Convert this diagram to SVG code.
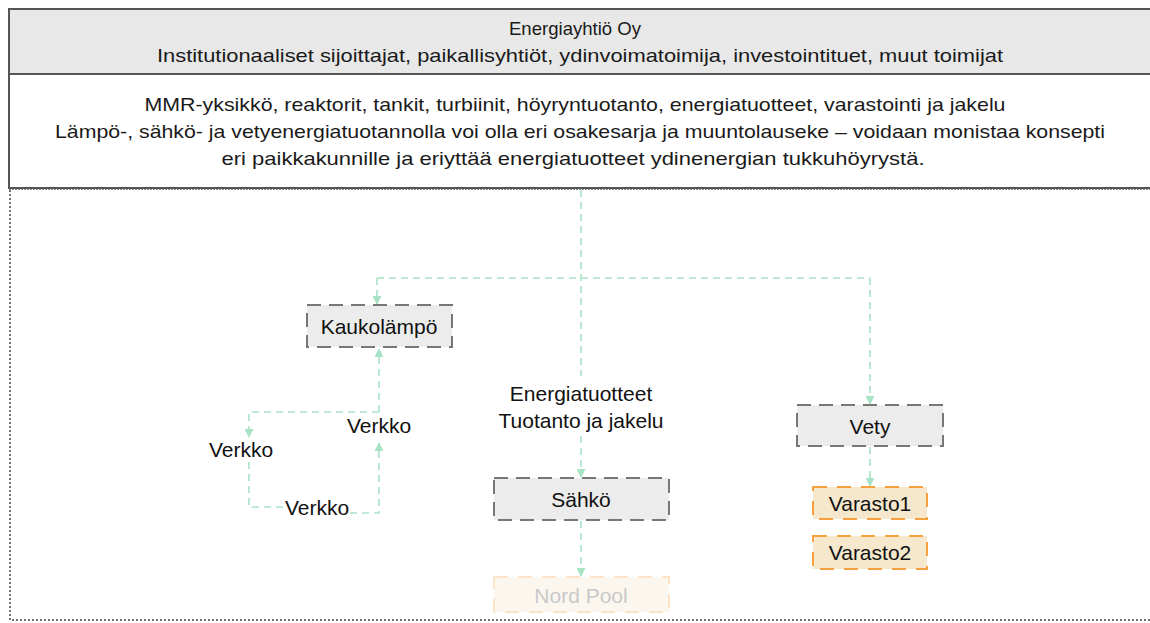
<svg xmlns="http://www.w3.org/2000/svg" width="1150" height="623" viewBox="0 0 1150 623">
  <style>
    .hdr { font-family: "Liberation Sans", Arial, sans-serif; font-size: 19px; fill: #1a1a1a; text-anchor: middle; }
    .lbl { font-family: "Liberation Sans", Arial, sans-serif; font-size: 21px; fill: #111; text-anchor: middle; dominant-baseline: central; }
    .grey { fill: #ececec; stroke: #777; stroke-width: 2; stroke-dasharray: 14 8; }
    .store { fill: #f5e8cc; stroke: #f7a040; stroke-width: 2; stroke-dasharray: 14 10; }
    .pale { fill: #fbf7ef; stroke: #fde3c8; stroke-width: 2; stroke-dasharray: 14 10; }
    .link { fill: none; stroke: #a9e3c6; stroke-width: 1.6; stroke-dasharray: 7 5; }
  </style>
  <defs>
    <marker id="arrow" viewBox="0 0 10 10" refX="9" refY="5" markerWidth="9" markerHeight="9" markerUnits="userSpaceOnUse" orient="auto">
      <path d="M0,0 L10,5 L0,10 z" fill="#a9e3c6"/>
    </marker>
  </defs>

  <rect width="1150" height="623" fill="#ffffff"/>

  <!-- company header band -->
  <g id="owners">
    <rect x="9" y="9" width="1150" height="65" fill="#e8e8e8" stroke="#555" stroke-width="2"/>
    <text class="hdr" x="575" y="35" textLength="132" lengthAdjust="spacingAndGlyphs">Energiayhtiö Oy</text>
    <text class="hdr" x="580" y="62" textLength="846" lengthAdjust="spacingAndGlyphs">Institutionaaliset sijoittajat, paikallisyhtiöt, ydinvoimatoimija, investointituet, muut toimijat</text>
  </g>

  <!-- plant description band -->
  <g id="plant">
    <rect x="9" y="74" width="1150" height="114" fill="#ffffff" stroke="#555" stroke-width="2"/>
    <line x1="9" y1="189.5" x2="1150" y2="189.5" stroke="#888" stroke-width="1" stroke-dasharray="2 1"/>
    <text class="hdr" x="575" y="111" textLength="861" lengthAdjust="spacingAndGlyphs">MMR-yksikkö, reaktorit, tankit, turbiinit, höyryntuotanto, energiatuotteet, varastointi ja jakelu</text>
    <text class="hdr" x="580" y="138" textLength="1050" lengthAdjust="spacingAndGlyphs">Lämpö-, sähkö- ja vetyenergiatuotannolla voi olla eri osakesarja ja muuntolauseke – voidaan monistaa konsepti</text>
    <text class="hdr" x="573" y="165" textLength="703" lengthAdjust="spacingAndGlyphs">eri paikkakunnille ja eriyttää energiatuotteet ydinenergian tukkuhöyrystä.</text>
  </g>

  <!-- dotted frame of the production area -->
  <g id="frame">
    <path d="M10,190 L10,620 L1150,620" fill="none" stroke="#444" stroke-width="1.5" stroke-dasharray="2 2"/>
  </g>

  <!-- connectors -->
  <g id="connectors">
    <path class="link" d="M581,190 L581,376"/>
    <path class="link" d="M581,436 L581,477" marker-end="url(#arrow)"/>
    <path class="link" d="M377,278 L870,278"/>
    <path class="link" d="M377,278 L377,304" marker-end="url(#arrow)"/>
    <path class="link" d="M870,278 L870,404" marker-end="url(#arrow)"/>
    <path class="link" d="M581,521 L581,576" marker-end="url(#arrow)"/>
    <path class="link" d="M870,447 L870,486" marker-end="url(#arrow)"/>
    <!-- district heating network loop -->
    <path class="link" d="M379,412 L379,349" marker-end="url(#arrow)"/>
    <path class="link" d="M379,412 L249,412 L249,437" marker-end="url(#arrow)"/>
    <path class="link" d="M249,462 L249,507 L283,507"/>
    <path class="link" d="M350,513 L379,513 L379,443" marker-end="url(#arrow)"/>
  </g>

  <g id="center-label">
    <text class="lbl" x="581" y="393">Energiatuotteet</text>
    <text class="lbl" x="581" y="420">Tuotanto ja jakelu</text>
  </g>

  <g id="kaukolampo">
    <rect class="grey" x="307" y="305" width="145" height="42"/>
    <text class="lbl" x="379" y="326">Kaukolämpö</text>
  </g>

  <g id="verkko-top">
    <text class="lbl" x="379" y="425">Verkko</text>
  </g>
  <g id="verkko-left">
    <text class="lbl" x="241" y="449">Verkko</text>
  </g>
  <g id="verkko-bottom">
    <text class="lbl" x="317" y="507">Verkko</text>
  </g>

  <g id="sahko">
    <rect class="grey" x="494" y="478" width="175" height="42"/>
    <text class="lbl" x="581" y="499">Sähkö</text>
  </g>

  <g id="nordpool">
    <rect class="pale" x="494" y="577" width="175" height="35"/>
    <text class="lbl" x="581" y="595" style="fill:#c9c9c9">Nord Pool</text>
  </g>

  <g id="vety">
    <rect class="grey" x="797" y="405" width="146" height="41"/>
    <text class="lbl" x="870" y="426">Vety</text>
  </g>

  <g id="varasto1">
    <rect class="store" x="813" y="487" width="114" height="32"/>
    <text class="lbl" x="870" y="503">Varasto1</text>
  </g>

  <g id="varasto2">
    <rect class="store" x="813" y="536" width="114" height="33"/>
    <text class="lbl" x="870" y="552">Varasto2</text>
  </g>
</svg>
